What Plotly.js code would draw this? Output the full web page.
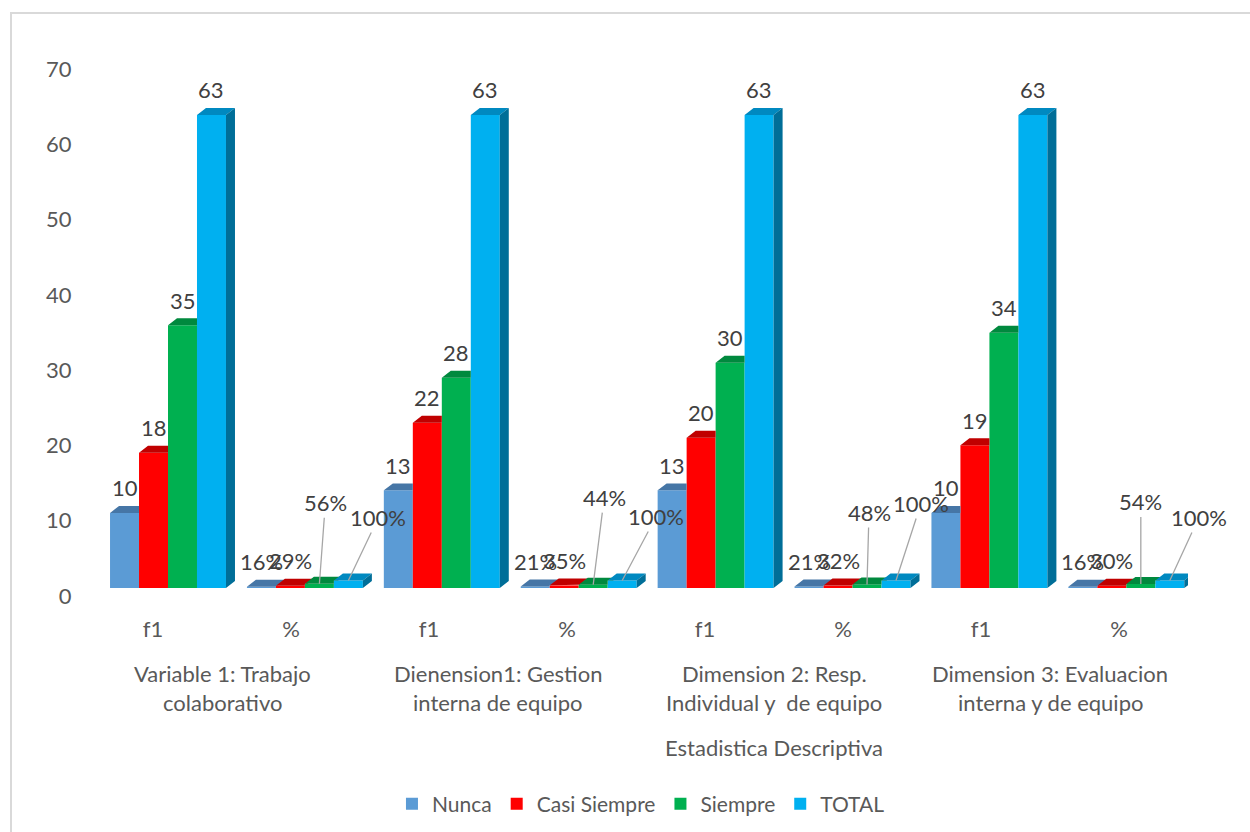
<!DOCTYPE html>
<html>
<head>
<meta charset="utf-8">
<script src="https://cdn.plot.ly/plotly-3.0.1.min.js"></script>
<style>
  html, body { margin: 0; padding: 0; background: #ffffff; }
  #wrap { position: relative; width: 1250px; height: 832px; overflow: hidden; }
  #chart { position: absolute; left: 0; top: 0; width: 1250px; height: 832px; }
  #frame { position: absolute; left: 10px; top: 12px; width: 1260px; height: 840px;
           border-left: 2px solid #d9d9d9; border-top: 2px solid #d9d9d9; pointer-events: none; }
</style>
</head>
<body>
<div id="wrap"><div id="chart"></div><div id="frame"></div></div>
<script>
// ---------------- data ----------------
const groups = ["Variable 1: Trabajo<br>colaborativo",
                "Dienension1: Gestion<br>interna de equipo",
                "Dimension 2: Resp.<br>Individual y  de equipo",
                "Dimension 3: Evaluacion<br>interna y de equipo"];
const subcats = ["f1", "%", "f1", "%", "f1", "%", "f1", "%"];
const seriesNames = ["Nunca", "Casi Siempre", "Siempre", "TOTAL"];
const nunca       = [10, 0.16, 13, 0.21, 13, 0.21, 10, 0.16];
const casiSiempre = [18, 0.29, 22, 0.35, 20, 0.32, 19, 0.30];
const siempre     = [35, 0.56, 28, 0.44, 30, 0.48, 34, 0.54];
const total       = [63, 1.00, 63, 1.00, 63, 1.00, 63, 1.00];
const yTicks = [0, 10, 20, 30, 40, 50, 60, 70];
const axisTitle = "Estadistica Descriptiva";

// ---------------- style ----------------
const frontColors = ["#5B9BD5", "#FF0000", "#00B050", "#00B0F0"];
const topColors   = ["#4676A6", "#C00000", "#00893E", "#0089C0"];
const sideColor   = "#006E98";
const textGrey = "#595959";
const labelGrey = "#404040";
const FONT = "Lato, 'Noto Sans', sans-serif";
const FS = 22;
const bargap = 0.153;
const bw = (1 - bargap) / 4;
const dx = 0.0657;   // depth offset (x2 units)
const dy = 0.93;     // depth offset (y2 units)

const allSeries = [nunca, casiSiempre, siempre, total];
const xs = subcats.map((_, i) => i);

const traces = [];
allSeries.forEach((vals, j) => {
  traces.push({
    type: "bar", name: seriesNames[j], x: xs, y: vals,
    xaxis: "x2", yaxis: "y2",
    marker: { color: frontColors[j], line: { width: 0 } },
    hoverinfo: "skip"
  });
});

// 3D top faces, computed from data
allSeries.forEach((vals, j) => {
  const px = [], py = [];
  vals.forEach((v, k) => {
    const xl = k + (j - 2) * bw, xr = xl + bw;
    let poly;
    if (j < 3) {
      const vn = allSeries[j + 1][k];
      if (vn >= v + dy) {
        poly = [[xl, v], [xr, v], [xr, v + dy], [xl + dx, v + dy]];
      } else if (vn > v) {
        const xc = xr + dx * (vn - v) / dy;
        poly = [[xl, v], [xr, v], [xr, vn], [xc, vn], [xr + dx, v + dy], [xl + dx, v + dy]];
      } else {
        poly = [[xl, v], [xr, v], [xr + dx, v + dy], [xl + dx, v + dy]];
      }
    } else {
      poly = [[xl, v], [xr, v], [xr + dx, v + dy], [xl + dx, v + dy]];
    }
    poly.forEach(p => { px.push(p[0]); py.push(p[1]); });
    px.push(poly[0][0]); py.push(poly[0][1]);
    px.push(null); py.push(null);
  });
  traces.push({
    type: "scatter", mode: "lines", x: px, y: py, xaxis: "x2", yaxis: "y2",
    fill: "toself", fillcolor: topColors[j], line: { width: 0, color: topColors[j] },
    showlegend: false, hoverinfo: "skip"
  });
});
// side face of last series
(function () {
  const px = [], py = [];
  total.forEach((v, k) => {
    const xr = k + 2 * bw;
    const poly = [[xr, 0], [xr + dx, dy], [xr + dx, v + dy], [xr, v], [xr, 0]];
    poly.forEach(p => { px.push(p[0]); py.push(p[1]); });
    px.push(null); py.push(null);
  });
  traces.push({
    type: "scatter", mode: "lines", x: px, y: py, xaxis: "x2", yaxis: "y2",
    fill: "toself", fillcolor: sideColor, line: { width: 0, color: sideColor },
    showlegend: false, hoverinfo: "skip"
  });
})();

// data labels
const leader = {  // [series index][group index] -> pixel offsets for labels with leader lines
  2: [[6, -81], [11, -87], [2, -72], [0, -82]],
  3: [[30, -63], [34, -64], [25, -77], [29, -63]]
};
const annotations = [];
allSeries.forEach((vals, j) => {
  vals.forEach((v, k) => {
    const isPct = subcats[k] === "%";
    const txt = isPct ? Math.round(v * 100) + "%" : String(v);
    const xc = k + (j - 1.5) * bw;
    if (isPct && leader[j]) {
      const off = leader[j][Math.floor(k / 2)];
      annotations.push({
        xref: "x2", yref: "y2", x: xc, y: v, text: txt,
        showarrow: true, arrowhead: 0, arrowwidth: 1.3, arrowcolor: "#A6A6A6",
        ax: off[0], ay: off[1], standoff: 0,
        font: { family: FONT, size: FS, color: labelGrey }
      });
    } else {
      annotations.push({
        xref: "x2", yref: "y2", x: xc, y: v, text: txt, showarrow: false,
        yshift: 25, font: { family: FONT, size: FS, color: labelGrey }
      });
    }
  });
});
// group labels (two lines each)
groups.forEach((g, i) => {
  const lines = g.split("<br>");
  lines.forEach((ln, li) => {
    annotations.push({
      xref: "x", yref: "paper", x: 2 * i + 0.5, y: 0, yshift: -77 - li * 29,
      text: ln, showarrow: false, xanchor: "center", yanchor: "middle",
      font: { family: FONT, size: FS, color: textGrey }
    });
  });
});
annotations.push({
  xref: "x", yref: "paper", x: 4.5, y: 0, yshift: -151, text: axisTitle,
  showarrow: false, xanchor: "center", yanchor: "middle",
  font: { family: FONT, size: FS, color: textGrey }
});

const layout = {
  width: 1250, height: 832,
  margin: { l: 84, r: 62, t: 69, b: 236, autoexpand: false },
  paper_bgcolor: "#ffffff", plot_bgcolor: "rgba(0,0,0,0)",
  font: { family: FONT, size: FS, color: textGrey },
  barmode: "group", bargap: bargap, bargroupgap: 0,
  showlegend: true,
  legend: { orientation: "h", x: 0.5045, xanchor: "center", y: -0.395, yanchor: "middle",
            font: { family: FONT, size: 21, color: textGrey }, traceorder: "normal" },
  xaxis: {
    range: [-0.5, 7.5], tickmode: "array", tickvals: xs, ticktext: subcats,
    showgrid: false, zeroline: false, showline: false, automargin: false,
    ticks: "outside", ticklen: 14, tickcolor: "rgba(0,0,0,0)",
    tickfont: { family: FONT, size: FS, color: textGrey }, fixedrange: true
  },
  xaxis2: { overlaying: "x", range: [-0.6136, 7.4505], visible: false, fixedrange: true },
  yaxis: {
    range: [0, 70], tickmode: "array", tickvals: yTicks, ticktext: yTicks.map(String),
    showgrid: false, zeroline: false, showline: false, automargin: false,
    ticks: "outside", ticklen: 7, tickcolor: "rgba(0,0,0,0)",
    tickfont: { family: FONT, size: FS, color: textGrey }, fixedrange: true
  },
  yaxis2: { overlaying: "y", range: [-1.065, 69.11], visible: false, fixedrange: true },
  annotations: annotations
};

Plotly.newPlot("chart", traces, layout, { staticPlot: true, displayModeBar: false });
</script>
</body>
</html>
